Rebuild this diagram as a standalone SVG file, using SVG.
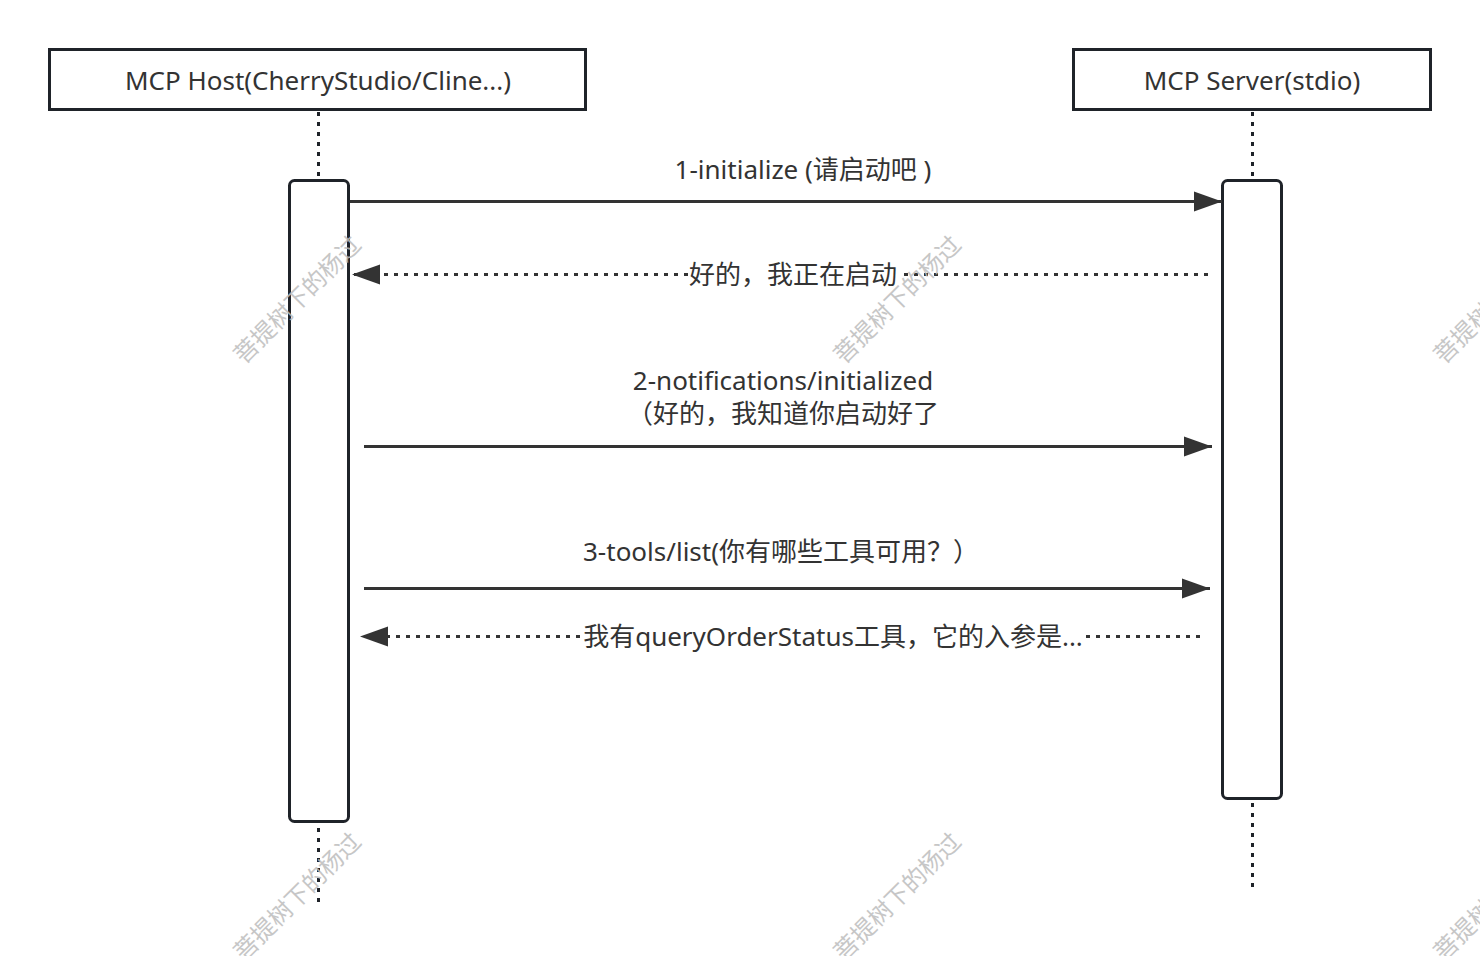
<svg xmlns="http://www.w3.org/2000/svg" width="1480" height="956" viewBox="0 0 1480 956">
<style>
text{font-family:"Noto Sans","Noto Sans CJK SC",sans-serif;fill:#333;}
.lbl{font-size:26px;text-anchor:middle;}
.head{fill:#fff;stroke:#1f2329;stroke-width:3;}
.act{fill:#fff;stroke:#1f2329;stroke-width:3;}
.life{stroke:#1f2329;stroke-width:3;stroke-dasharray:4 6;fill:none;}
.sync{stroke:#333;stroke-width:3;fill:none;}
.ret{stroke:#333;stroke-width:3;stroke-dasharray:4 6;fill:none;}
.wm{font-size:24px;fill:#bdbdbd;opacity:0.85;}
</style>
<defs>
<marker id="ah" markerUnits="userSpaceOnUse" markerWidth="30" markerHeight="24" refX="28" refY="12" orient="auto">
<path d="M0,2 L28,12 L0,22 Z" fill="#333"/>
</marker>
</defs>
<rect width="1480" height="956" fill="#fff"/>
<g id="lifelines">
<line class="life" x1="318.5" y1="112" x2="318.5" y2="180"/>
<line class="life" x1="318.5" y1="828" x2="318.5" y2="905"/>
<line class="life" x1="1252.5" y1="112" x2="1252.5" y2="180"/>
<line class="life" x1="1252.5" y1="803" x2="1252.5" y2="893"/>
</g>
<g id="host">
<rect class="head" x="49.5" y="49.5" width="536" height="60"/>
<text class="lbl" x="318" y="90">MCP Host(CherryStudio/Cline...)</text>
</g>
<g id="server">
<rect class="head" x="1073.5" y="49.5" width="357" height="60"/>
<text class="lbl" x="1252" y="90">MCP Server(stdio)</text>
</g>
<g id="host-activation">
<rect class="act" x="289.5" y="180.5" width="59" height="641" rx="5"/>
</g>
<g id="server-activation">
<rect class="act" x="1222.5" y="180.5" width="59" height="618" rx="5"/>
</g>
<g id="connectors">
<line class="sync" x1="350" y1="201.5" x2="1222" y2="201.5" marker-end="url(#ah)"/>
<text class="lbl" x="803" y="179">1-initialize (请启动吧 )</text>

<line class="ret" x1="1208" y1="274.5" x2="352" y2="274.5" marker-end="url(#ah)"/>
<rect x="688" y="258" width="210" height="32" fill="#fff"/>
<text class="lbl" x="793" y="284">好的，我正在启动</text>

<line class="sync" x1="364" y1="446.5" x2="1212" y2="446.5" marker-end="url(#ah)"/>
<text class="lbl" x="783" y="390">2-notifications/initialized</text>
<text class="lbl" x="783" y="423">（好的，我知道你启动好了</text>

<line class="sync" x1="364" y1="588.5" x2="1210" y2="588.5" marker-end="url(#ah)"/>
<text class="lbl" x="781" y="561">3-tools/list(你有哪些工具可用？）</text>

<line class="ret" x1="1200" y1="636.5" x2="360" y2="636.5" marker-end="url(#ah)"/>
<rect x="583" y="620" width="500" height="32" fill="#fff"/>
<text class="lbl" x="833" y="646">我有queryOrderStatus工具，它的入参是...</text>
</g>
<g id="watermarks">
<text class="wm" transform="translate(244,365) rotate(-45)">菩提树下的杨过</text>
<text class="wm" transform="translate(844,365) rotate(-45)">菩提树下的杨过</text>
<text class="wm" transform="translate(1444,365) rotate(-45)">菩提树下的杨过</text>
<text class="wm" transform="translate(244,962) rotate(-45)">菩提树下的杨过</text>
<text class="wm" transform="translate(844,962) rotate(-45)">菩提树下的杨过</text>
<text class="wm" transform="translate(1444,962) rotate(-45)">菩提树下的杨过</text>
</g>
</svg>
